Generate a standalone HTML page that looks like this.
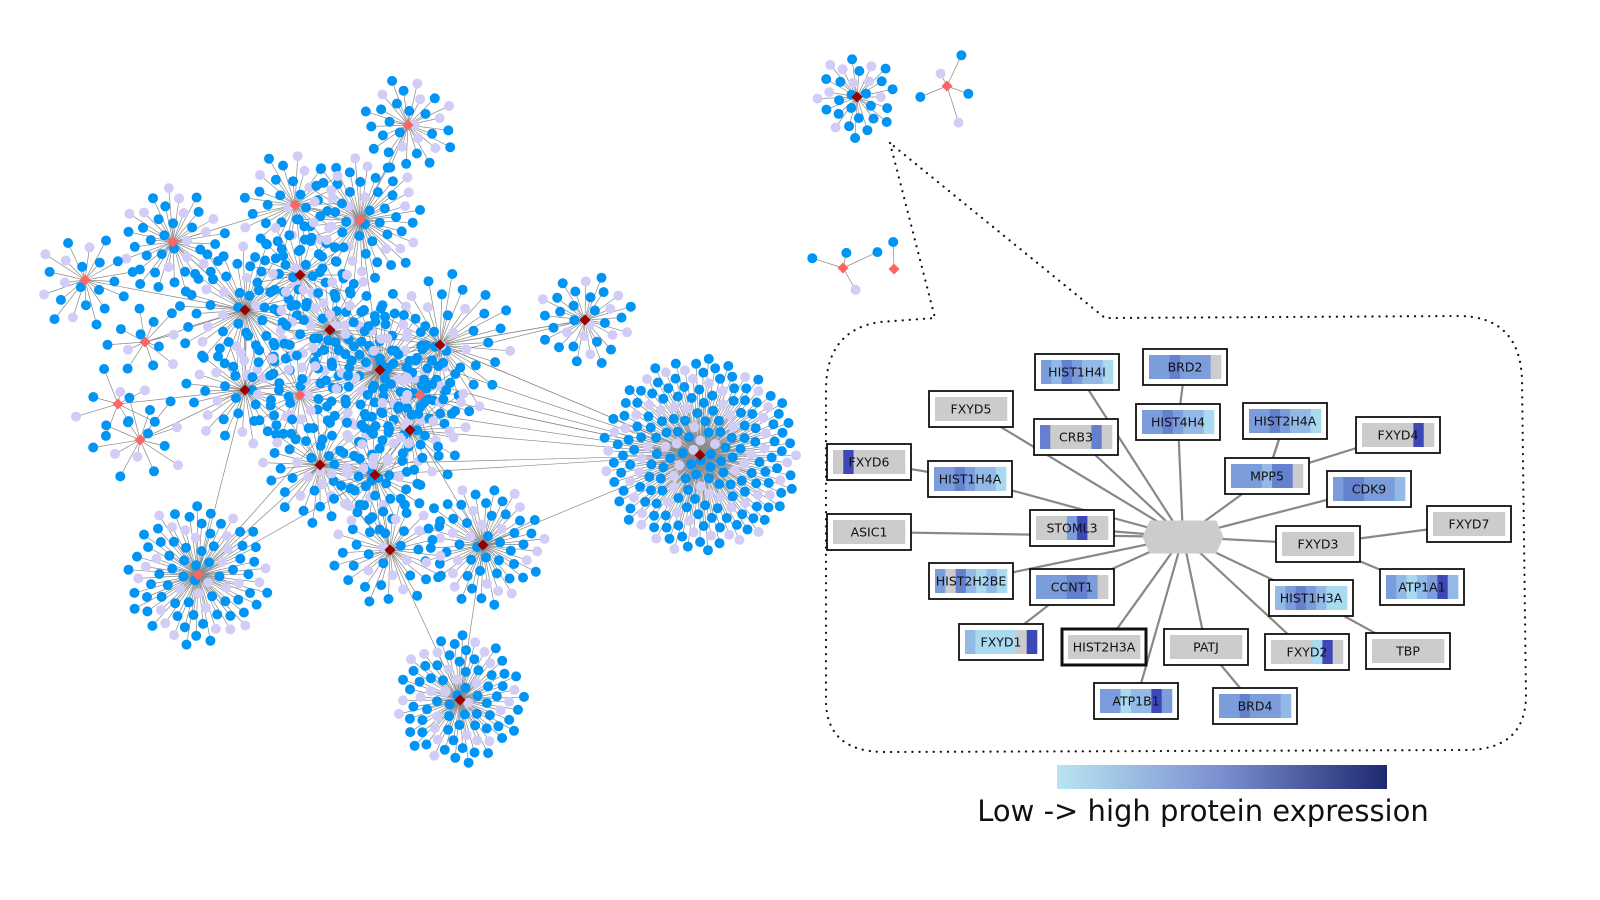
<!DOCTYPE html>
<html><head><meta charset="utf-8">
<style>
html,body{margin:0;padding:0;background:#fff;}
svg{display:block;font-family:"DejaVu Sans","Liberation Sans",sans-serif;}
</style></head>
<body>
<svg id="fig" width="1600" height="900" viewBox="0 0 1600 900" xmlns="http://www.w3.org/2000/svg">
<defs>
<linearGradient id="cbar" x1="0" x2="1" y1="0" y2="0">
<stop offset="0" stop-color="#b8e4f2"/><stop offset="0.5" stop-color="#7b8fd0"/><stop offset="1" stop-color="#1e2870"/>
</linearGradient>
</defs>
<g id="edges"></g>
<g id="nodes"></g>
<path d="M890,143 L935,318 L880,322 Q826,330 826,390 L826,700 Q826,752 885,752 L1465,750 Q1526,750 1526,695 L1522,380 Q1520,316 1458,316 L1105,318 Z" fill="none" stroke="#111" stroke-width="2.2" stroke-dasharray="0.1 7" stroke-linecap="round"/>
<g id="inset"></g>
<rect x="1057" y="765" width="330" height="24" fill="url(#cbar)"/>
<text x="1203" y="821" font-size="29" text-anchor="middle" fill="#111">Low -&gt; high protein expression</text>
</svg>
<script>
// main network hubs: x, y, leaf count, spread radius, dark(1)/light(0)
var hubX=[408,360,173,85,295,245,145,118,140,245,585,700,198,483,390,460,380,330,410,440,320,375,300,857,947,843,894,300,420];
var hubY=[125,220,242,280,205,310,342,404,440,390,320,455,575,545,550,700,370,330,430,345,465,475,275,97,86,268,269,395,395];
var hubN=[30,60,40,22,35,55,12,8,14,40,32,210,85,60,40,85,80,50,40,45,45,40,35,30,5,4,1,30,30];
var hubR=[48,65,55,50,55,70,40,45,50,60,48,98,72,62,58,65,70,60,60,75,60,55,55,42,40,40,30,55,55];
var hubDark=[0,0,0,0,0,1,0,0,0,1,1,1,0,1,1,1,1,1,1,1,1,1,1,1,0,0,0,0,0];
// hub-hub links (indices)
var linkA=[16,16,16,16,16,5,5,2,3,6,7,8,9,10,11,11,12,12,13,14,15,17,18,19,20,21,1,4,0,22,11,13,9,27,28,17,19,11,11,11];
var linkB=[11,10,13,12,5,2,9,4,5,5,9,9,12,19,19,18,20,21,11,20,14,16,21,11,21,14,16,16,1,16,20,15,16,16,11,11,10,27,21,28];
var expr={
HIST1H4I:[3,2,4,3,2,2,1],BRD2:[3,3,4,3,3,3,0],FXYD5:[0,0,0,0,0,0,0],CRB3:[4,0,0,0,0,4,0],
HIST4H4:[3,3,4,3,2,2,1],HIST2H4A:[3,3,4,3,2,2,1],FXYD4:[0,0,0,0,0,5,0],FXYD6:[0,5,0,0,0,0,0],
HIST1H4A:[3,3,4,3,2,2,1],MPP5:[3,3,3,2,4,4,0],CDK9:[3,4,4,3,3,3,2],FXYD7:[0,0,0,0,0,0,0],
ASIC1:[0,0,0,0,0,0,0],STOML3:[0,0,0,3,5,0,0],FXYD3:[0,0,0,0,0,0,0],HIST2H2BE:[3,0,4,2,1,2,1],
CCNT1:[3,3,3,4,4,3,0],HIST1H3A:[2,3,4,3,2,1,1],ATP1A1:[3,2,1,2,3,5,2],FXYD1:[2,1,1,1,1,0,5],
HIST2H3A:[0,0,0,0,0,0,0],PATJ:[0,0,0,0,0,0,0],FXYD2:[0,0,0,0,1,5,0],TBP:[0,0,0,0,0,0,0],
ATP1B1:[3,3,1,2,2,5,3],BRD4:[3,3,4,3,3,3,2]};
var boxNames=["HIST1H4I","BRD2","FXYD5","CRB3","HIST4H4","HIST2H4A","FXYD4","FXYD6","HIST1H4A","MPP5","CDK9","FXYD7","ASIC1","STOML3","FXYD3","HIST2H2BE","CCNT1","HIST1H3A","ATP1A1","FXYD1","HIST2H3A","PATJ","FXYD2","TBP","ATP1B1","BRD4"];
var boxX=[1077,1185,971,1076,1178,1285,1398,869,970,1267,1369,1469,869,1072,1318,971,1072,1311,1422,1001,1104,1206,1307,1408,1136,1255];
var boxY=[372,367,409,437,422,421,435,462,479,476,489,524,532,528,544,581,587,598,587,642,647,647,652,651,701,706];
var directToCenter=[1,0,1,1,1,0,0,0,1,1,1,0,1,1,1,1,1,1,0,0,1,1,1,0,1,0];
var extraA=["FXYD6","BRD2","HIST2H4A","FXYD4","FXYD7","ATP1A1","TBP","BRD4","FXYD1","HIST2H4A"];
var extraB=["HIST1H4A","HIST4H4","MPP5","MPP5","FXYD3","FXYD3","HIST1H3A","PATJ","CCNT1","MPP5"];

var NS="http://www.w3.org/2000/svg";
function mk(tag,attrs,parent){var e=document.createElementNS(NS,tag);for(var k in attrs)e.setAttribute(k,attrs[k]);parent.appendChild(e);return e;}
var gE=document.getElementById('edges'),gN=document.getElementById('nodes'),gI=document.getElementById('inset');
var GA=2.39996;
for(var h=0;h<hubX.length;h++){
  var n=hubN[h];
  for(var i=0;i<n;i++){
    var r=hubR[h]*Math.sqrt((i+0.6)/n);
    var a=i*GA+h*0.7;
    if(h===26){r=27;a=-1.6;}
    var x=hubX[h]+r*Math.cos(a), y=hubY[h]+r*Math.sin(a);
    var ln=mk('line',{x1:hubX[h],y1:hubY[h],x2:x.toFixed(1),y2:y.toFixed(1),stroke:'#8a8a8a','stroke-width':0.7},gE);
    
    
    var lav=((i*7+h*3)%10)<3;
    var c=mk('circle',{cx:x.toFixed(1),cy:y.toFixed(1),r:5,fill:lav?'#d2cdf6':'#0094f5'},gN);
    
    
  }
}
for(var k=0;k<linkA.length;k++){
  var l=mk('line',{x1:hubX[linkA[k]],y1:hubY[linkA[k]],x2:hubX[linkB[k]],y2:hubY[linkB[k]],stroke:'#8a8a8a','stroke-width':0.7},gE);
  
  
}
for(var h2=0;h2<hubX.length;h2++){
  var s=5.5;
  var d=mk('path',{d:'M'+hubX[h2]+','+(hubY[h2]-s)+' L'+(hubX[h2]+s)+','+hubY[h2]+' L'+hubX[h2]+','+(hubY[h2]+s)+' L'+(hubX[h2]-s)+','+hubY[h2]+'Z',fill:hubDark[h2]?'#9a0000':'#ff6464'},gN);
  
  
}
// inset
var CX=1183,CY=537;
var shades=['#cccccc','#a9daf0','#93b9e6','#7b9ddc','#6680d0','#3d47b8'];
var idx={};boxNames.forEach(function(nm,i){idx[nm]=i;});
for(var b=0;b<boxNames.length;b++){
  if(directToCenter[b]){var e=mk('line',{x1:CX,y1:CY,x2:boxX[b],y2:boxY[b],stroke:'#888','stroke-width':2.2},gI);
  
  }
}
for(var q=0;q<extraA.length;q++){
  var A=idx[extraA[q]],B=idx[extraB[q]];
  var e2=mk('line',{x1:boxX[A],y1:boxY[A],x2:boxX[B],y2:boxY[B],stroke:'#888','stroke-width':2.2},gI);
  
  
}
var hx=mk('path',{d:'M'+(CX-40)+','+CY+' L'+(CX-33)+','+(CY-16)+' L'+(CX+33)+','+(CY-16)+' L'+(CX+40)+','+CY+' L'+(CX+33)+','+(CY+16)+' L'+(CX-33)+','+(CY+16)+'Z',fill:'#cccccc',stroke:'#cccccc'},gI);


var W=84,H=36;
for(var b2=0;b2<boxNames.length;b2++){
  var g=mk('g',{},gI);
  
  
  var bx=boxX[b2]-W/2,by=boxY[b2]-H/2;
  mk('rect',{x:bx,y:by,width:W,height:H,fill:'#fff',stroke:'#111','stroke-width':boxNames[b2]==='HIST2H3A'?3:1.8},g);
  var ex=expr[boxNames[b2]],iw=(W-12)/ex.length;
  for(var j=0;j<ex.length;j++){
    mk('rect',{x:(bx+6+j*iw).toFixed(1),y:by+6,width:(iw+0.3).toFixed(1),height:H-12,fill:shades[ex[j]]},g);
  }
  var t=mk('text',{x:boxX[b2],y:boxY[b2]+4.5,'font-size':12.5,'text-anchor':'middle',fill:'#111'},g);
  t.textContent=boxNames[b2];
}
</script>
</body></html>
